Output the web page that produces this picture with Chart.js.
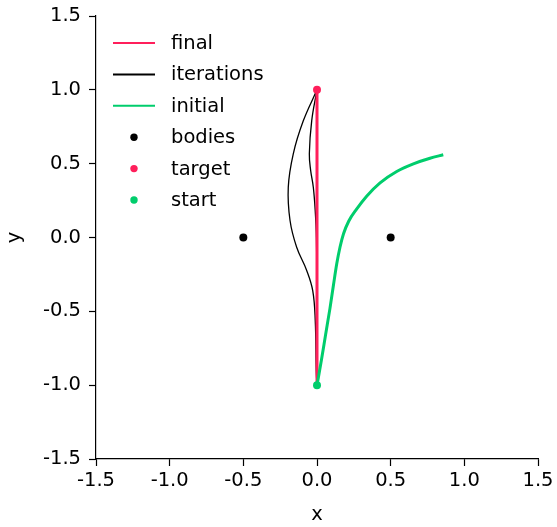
<!DOCTYPE html>
<html>
<head>
<meta charset="utf-8">
<script src="https://cdn.jsdelivr.net/npm/chart.js@4/dist/chart.umd.min.js"></script>
<style>
  html, body { margin: 0; padding: 0; background: #fff; }
  #wrap { width: 557px; height: 527px; }
</style>
</head>
<body>
<div id="wrap"><canvas id="trajChart"></canvas></div>
<script>
// values
const finalX = [0, 0];
const finalY = [-1, 1];

const iter1X = [0, -0.093, -0.161, -0.195, -0.183, -0.138, -0.07, -0.029, -0.012, -0.005, 0];
const iter1Y = [1, 0.79, 0.567, 0.34, 0.115, -0.066, -0.223, -0.36, -0.56, -0.9, -1];

const iter2X = [0, -0.036, -0.052, -0.043, -0.025, -0.012, -0.004, 0, 0];
const iter2Y = [1, 0.79, 0.567, 0.454, 0.34, 0.18, 0.0, -0.4, -1];

const initX = [0, 0.03, 0.058, 0.088, 0.112, 0.134, 0.156, 0.18, 0.215, 0.27, 0.337, 0.428, 0.541, 0.654, 0.767, 0.857];
const initY = [-1, -0.83, -0.66, -0.48, -0.32, -0.178, -0.066, 0.025, 0.11, 0.194, 0.28, 0.37, 0.447, 0.499, 0.537, 0.56];

const bodiesX = [-0.5, 0.5];
const bodiesY = [0, 0];
const targetX = [0];
const targetY = [1];
const startX = [0];
const startY = [-1];

const axisTicks = [-1.5, -1.0, -0.5, 0.0, 0.5, 1.0, 1.5];

const RED = '#ff1f5b';
const GREEN = '#00cd6c';
const FONT = 'DejaVu Sans';
const FSIZE = 19.5;

function pts(xs, ys) {
  return xs.map((x, i) => ({ x: x, y: ys[i] }));
}

// legend drawn inside the plot, top left
const legendRows = [
  { label: 'final', kind: 'line', color: RED },
  { label: 'iterations', kind: 'line', color: '#000' },
  { label: 'initial', kind: 'line', color: GREEN },
  { label: 'bodies', kind: 'dot', color: '#000' },
  { label: 'target', kind: 'dot', color: RED },
  { label: 'start', kind: 'dot', color: GREEN }
];

const insideLegend = {
  id: 'insideLegend',
  afterDraw(chart) {
    const ctx = chart.ctx;
    const a = chart.chartArea;
    ctx.save();
    ctx.font = FSIZE + 'px "' + FONT + '"';
    ctx.textBaseline = 'middle';
    legendRows.forEach((r, i) => {
      const y = a.top + 27 + i * 31.4;
      const x0 = a.left + 17;
      if (r.kind === 'line') {
        ctx.strokeStyle = r.color;
        ctx.lineWidth = 2;
        ctx.beginPath();
        ctx.moveTo(x0, y);
        ctx.lineTo(x0 + 42, y);
        ctx.stroke();
      } else {
        ctx.fillStyle = r.color;
        ctx.beginPath();
        ctx.arc(x0 + 21, y, 3.7, 0, Math.PI * 2);
        ctx.fill();
      }
      ctx.fillStyle = '#000';
      ctx.fillText(r.label, x0 + 58, y + 1);
    });
    ctx.restore();
  }
};

const lineSet = (label, data, color, width, order) => ({
  label: label,
  data: data,
  showLine: true,
  borderColor: color,
  backgroundColor: color,
  borderWidth: width,
  pointRadius: 0,
  tension: 0.4,
  order: order
});

const dotSet = (label, data, color, order) => ({
  label: label,
  data: data,
  showLine: false,
  backgroundColor: color,
  borderColor: color,
  borderWidth: 0,
  pointRadius: 4,
  order: order
});

// x grows steadily along the initial guess, so monotone interpolation keeps it smooth
const initSet = lineSet('initial', pts(initX, initY), GREEN, 3, 3);
initSet.cubicInterpolationMode = 'monotone';

var ctx = document.getElementById('trajChart').getContext('2d');
var chart1 = new Chart(ctx, {
  type: 'scatter',
  data: {
    datasets: [
      lineSet('iterations', pts(iter1X, iter1Y), '#000', 1.3, 6),
      lineSet('iterations', pts(iter2X, iter2Y), '#000', 1.3, 5),
      lineSet('final', pts(finalX, finalY), RED, 3, 4),
      initSet,
      dotSet('bodies', pts(bodiesX, bodiesY), '#000', 2),
      dotSet('target', pts(targetX, targetY), RED, 1),
      dotSet('start', pts(startX, startY), GREEN, 0)
    ]
  },
  options: {
    responsive: true,
    maintainAspectRatio: false,
    animation: false,
    layout: { padding: { left: 0, right: 19, top: 16, bottom: 0 } },
    plugins: {
      legend: { display: false },
      tooltip: { enabled: false }
    },
    scales: {
      x: {
        type: 'linear',
        min: -1.5,
        max: 1.5,
        afterBuildTicks: (s) => { s.ticks = axisTicks.map(v => ({ value: v })); },
        afterFit: (s) => { s.height = 68; s.paddingLeft = 0; s.paddingRight = 0; },
        ticks: {
          color: '#000',
          font: { family: FONT, size: FSIZE },
          padding: 3,
          maxRotation: 0,
          callback: (v) => v.toFixed(1)
        },
        grid: { drawOnChartArea: false, tickLength: 7, color: '#000', tickWidth: 1.2 },
        border: { display: true, color: '#000', width: 1.2 },
        title: { display: true, text: 'x', color: '#000', font: { family: FONT, size: FSIZE }, padding: { top: 2, bottom: 0 } }
      },
      y: {
        type: 'linear',
        min: -1.5,
        max: 1.5,
        afterBuildTicks: (s) => { s.ticks = axisTicks.map(v => ({ value: v })); },
        afterFit: (s) => { s.width = 96; s.paddingTop = 0; s.paddingBottom = 0; },
        ticks: {
          color: '#000',
          font: { family: FONT, size: FSIZE },
          padding: 8,
          callback: (v) => v.toFixed(1)
        },
        grid: { drawOnChartArea: false, tickLength: 7, color: '#000', tickWidth: 1.2 },
        border: { display: true, color: '#000', width: 1.2 },
        title: { display: true, text: 'y', color: '#000', font: { family: FONT, size: FSIZE }, padding: { top: 3, bottom: 2 } }
      }
    }
  },
  plugins: [insideLegend]
});
</script>
</body>
</html>
